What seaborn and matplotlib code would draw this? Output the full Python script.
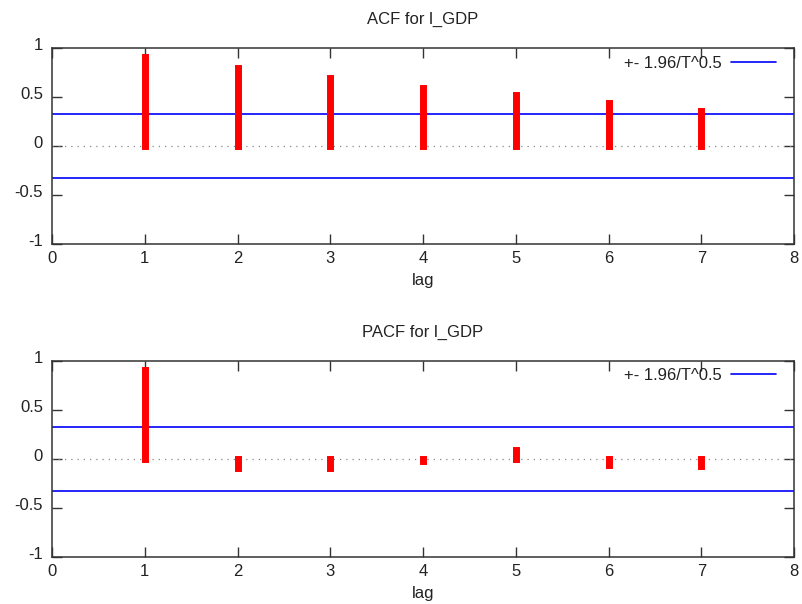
import numpy as np
import pandas as pd
import matplotlib
matplotlib.use("Agg")
import matplotlib.pyplot as plt
import matplotlib.transforms as mtransforms
import seaborn as sns

# Correlogram values for l_GDP
lags = [1, 2, 3, 4, 5, 6, 7]
acf_vals = [0.905, 0.797, 0.690, 0.595, 0.516, 0.440, 0.357]
pacf_vals = [0.905, -0.092, -0.092, -0.022, 0.088, -0.061, -0.075]
n_obs = 36
band = 1.96 / np.sqrt(n_obs)

x_ticks = [0, 1, 2, 3, 4, 5, 6, 7, 8]
y_ticks = [-1, -0.5, 0, 0.5, 1]
y_ticklabels = ["-1", "-0.5", "0", "0.5", "1"]

sns.set_theme(style="ticks")
plt.rcParams["font.family"] = ["Liberation Sans", "DejaVu Sans"]
plt.rcParams["font.size"] = 12

fig = plt.figure(figsize=(8.03, 6.04), dpi=100)
ax_top = fig.add_axes([0.0648, 0.596, 0.924, 0.3245])
ax_bot = fig.add_axes([0.0648, 0.0783, 0.924, 0.3245])

panels = [
    (ax_top, acf_vals, "ACF for l_GDP"),
    (ax_bot, pacf_vals, "PACF for l_GDP"),
]

text_color = "#222222"
raise_labels = mtransforms.ScaledTranslation(0, 4 / 100, fig.dpi_scale_trans)

for ax, vals, title in panels:
    df = pd.DataFrame({"lag": lags, "value": vals})
    ax.axhline(0, color="#888888", lw=0.9, ls=(0, (1, 4)), zorder=1)
    ax.vlines(df["lag"], 0, df["value"], color="#ff0000", lw=5.0,
              capstyle="projecting", zorder=3)
    sns.lineplot(x=[0, 8], y=[band, band], ax=ax, color="#0000ff", lw=1.2,
                 label="+- 1.96/T^0.5", zorder=2)
    sns.lineplot(x=[0, 8], y=[-band, -band], ax=ax, color="#0000ff", lw=1.2,
                 zorder=2)
    ax.set_xlim(0, 8)
    ax.set_ylim(-1, 1)
    ax.set_xticks(x_ticks)
    ax.set_xticklabels([str(t) for t in x_ticks])
    ax.set_yticks(y_ticks)
    ax.set_yticklabels(y_ticklabels)
    ax.tick_params(direction="in", length=7, width=1, color="#333333",
                   labelsize=12, labelcolor=text_color,
                   top=True, right=True)
    ax.tick_params(axis="y", pad=6.5)
    ax.tick_params(axis="x", pad=5)
    for lab in ax.get_yticklabels():
        lab.set_transform(lab.get_transform() + raise_labels)
    for s in ax.spines.values():
        s.set_visible(True)
        s.set_color("#333333")
        s.set_linewidth(1.1)
    ax.set_title(title, fontsize=12, color=text_color, pad=17.5)
    ax.set_xlabel("lag", fontsize=12, color=text_color, labelpad=5)
    ax.set_ylabel("")
    ax.legend(loc="center right", bbox_to_anchor=(0.9848, 0.9235),
              borderaxespad=0, frameon=False, markerfirst=False,
              handlelength=2.7, handletextpad=0.53, fontsize=12,
              labelcolor=text_color)

fig.savefig("out.png", dpi=100)
